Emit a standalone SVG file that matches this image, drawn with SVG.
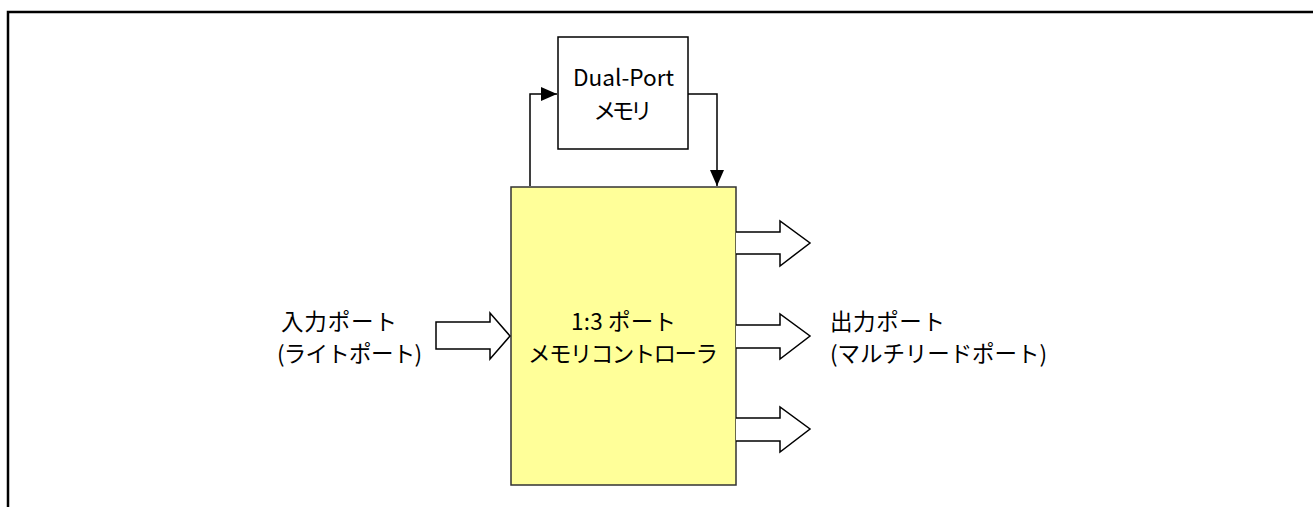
<svg xmlns="http://www.w3.org/2000/svg" width="1313" height="507" viewBox="0 0 1313 507">
<style>
.t{font-family:"Noto Sans CJK JP","Noto Sans",sans-serif;font-size:22.5px;fill:#000}
.c{text-anchor:middle}
.ln{fill:none;stroke:#000;stroke-width:1.5}
.blk{fill:#fff;stroke:#000;stroke-width:1.5;stroke-linejoin:miter}
</style>
<defs>
<marker id="ah" markerWidth="16" markerHeight="14" refX="16" refY="7" orient="auto" markerUnits="userSpaceOnUse" viewBox="0 0 16 14">
<path d="M0,0 L16,7 L0,14 Z" fill="#000"/>
</marker>
</defs>
<rect width="1313" height="507" fill="#fff"/>
<path d="M8,507 V12 H1313" fill="none" stroke="#000" stroke-width="2.5"/>
<g id="connectors">
<path class="ln" d="M530,186 V94 H557" marker-end="url(#ah)"/>
<path class="ln" d="M688,94 H717 V186" marker-end="url(#ah)"/>
</g>
<g id="memory">
<rect x="558" y="37" width="130" height="112" fill="#fff" stroke="#000" stroke-width="1.5"/>
<text class="t c" x="623.5" y="86" textLength="101" lengthAdjust="spacingAndGlyphs">Dual-Port</text>
<text class="t c" x="623" y="119" textLength="59">メモリ</text>
</g>
<g id="controller">
<rect x="511" y="187" width="225" height="298" fill="#ffff99" stroke="#333" stroke-width="1.5"/>
<text class="t c" x="623.5" y="330" textLength="105">1:3 ポート</text>
<text class="t c" x="623" y="362" textLength="190">メモリコントローラ</text>
</g>
<g id="input-arrow">
<path class="blk" d="M436,322 H490 V313 L510,336 L490,359 V349 H436 Z"/>
</g>
<g id="output-arrows">
<path class="blk" d="M736,232 H780 V221 L810,243 L780,266 V254 H736"/>
<path class="blk" d="M736,325 H780 V314 L810,336 L780,359 V348 H736"/>
<path class="blk" d="M736,418 H780 V407 L810,429 L780,452 V441 H736"/>
</g>
<g id="input-label">
<text class="t" x="281" y="330" textLength="116">入力ポート</text>
<text class="t" x="277" y="362" textLength="145">(ライトポート)</text>
</g>
<g id="output-label">
<text class="t" x="830" y="330" textLength="115">出力ポート</text>
<text class="t" x="830" y="362" textLength="217">(マルチリードポート)</text>
</g>
</svg>
